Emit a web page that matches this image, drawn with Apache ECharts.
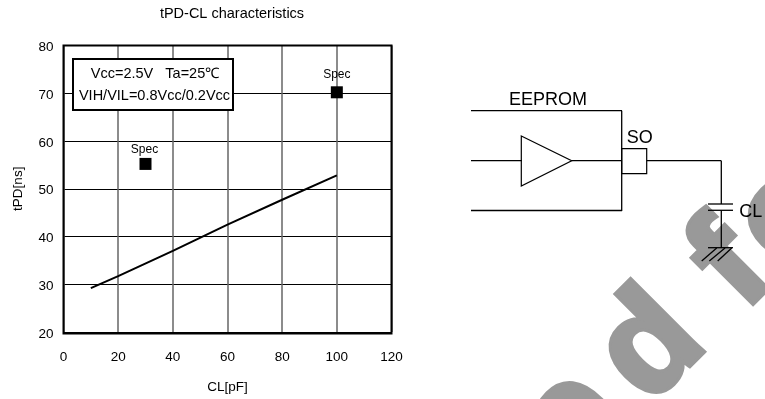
<!DOCTYPE html>
<html>
<head>
<meta charset="utf-8">
<style>html,body{margin:0;padding:0;background:#fff}#main{width:765px;height:399px}</style>
<script src="https://cdn.jsdelivr.net/npm/echarts@6/dist/echarts.min.js"></script>
</head>
<body>
<div id="main"></div>
<script>
var FONT = '"Liberation Sans", Arial, sans-serif';
var capValues = [10, 20, 40, 60, 80, 100];
var delayValues = [29.2, 31.7, 37, 42.5, 47.7, 52.8];
var specPoints = [[30, 55.2], [100, 70.2]];
var specLabel = 'Spec';
var chartTitle = 'tPD-CL characteristics';
var xName = 'CL[pF]';
var yName = 'tPD[ns]';
var noteLines = ['Vcc=2.5V   Ta=25℃', 'VIH/VIL=0.8Vcc/0.2Vcc'];

var lineData = [];
for (var i = 0; i < capValues.length; i++) {
	lineData.push([capValues[i], delayValues[i]]);
}

function wire(x1, y1, x2, y2) {
	return {
		type: 'line', z: 5,
		shape: { x1: x1, y1: y1, x2: x2, y2: y2 },
		style: { stroke: '#000', lineWidth: 1.3 }
	};
}
function label(text, x, y, size, align) {
	return {
		type: 'text', z: 6, x: x, y: y,
		style: { text: text, font: size + 'px ' + FONT, fill: '#000', align: align || 'left', verticalAlign: 'middle' }
	};
}
function mark(text, x, y) {
	return {
		type: 'text', z: 0, x: x, y: y, rotation: Math.PI / 4,
		style: { text: text, font: 'bold 140px ' + FONT, fill: '#999', stroke: '#999', lineWidth: 6, lineJoin: 'miter', align: 'left', verticalAlign: 'alphabetic' }
	};
}

// 电路图和水印
var drawing = [
	mark('e', 496, 399),
	mark('d', 572, 329),
	mark('f', 667, 235),
	mark('o', 709, 197),
	// 注释框
	{ type: 'rect', z: 5, shape: { x: 73, y: 59, width: 160, height: 51 },
		style: { fill: '#fff', stroke: '#000', lineWidth: 2 } },
	label(noteLines[0], 155, 74, 14.5, 'center'),
	label(noteLines[1], 154.5, 96, 14.5, 'center'),
	// EEPROM
	wire(471, 110.7, 622, 110.7), wire(471, 160.7, 522, 160.7), wire(571.5, 160.7, 622, 160.7),
	wire(471, 210.5, 622, 210.5), wire(621.7, 110.7, 621.7, 211),
	{ type: 'polygon', z: 5, shape: { points: [[521.3, 136], [571.7, 160.7], [521.3, 186]] },
		style: { fill: 'none', stroke: '#000', lineWidth: 1.2 } },
	{ type: 'rect', z: 5, shape: { x: 621.7, y: 148.7, width: 25, height: 25 },
		style: { fill: 'none', stroke: '#000', lineWidth: 1.2 } },
	wire(646.7, 160.7, 721.3, 160.7), wire(721.3, 160.7, 721.3, 204),
	wire(708, 204, 733, 204), wire(708, 210.3, 733, 210.3),
	wire(721.3, 210.3, 721.3, 248), wire(708, 247.7, 733, 247.7),
	wire(716.7, 248, 701.7, 261), wire(725, 248, 709.3, 261), wire(731.7, 248, 717.7, 261),
	label('EEPROM', 509, 100, 18),
	label('SO', 626.7, 137.7, 18),
	label('CL', 739.3, 211.7, 18)
];

var chart = echarts.init(document.getElementById('main'), null, { renderer: 'canvas' });
chart.setOption({
	animation: false,
	backgroundColor: '#fff',
	textStyle: { fontFamily: FONT },
	title: {
		text: chartTitle, left: 227, top: 1, textAlign: 'center',
		textStyle: { fontSize: 14.5, fontWeight: 'normal', color: '#000', fontFamily: FONT }
	},
	grid: { left: 63.5, top: 45.5, width: 328, height: 288, show: false },
	xAxis: {
		type: 'value', min: 0, max: 120, interval: 20,
		name: xName, nameLocation: 'middle', nameGap: 48,
		nameTextStyle: { fontSize: 13.5, color: '#000', fontFamily: FONT },
		axisLine: { show: false },
		axisTick: { show: false },
		axisLabel: { fontSize: 13.5, color: '#000', margin: 18, fontFamily: FONT },
		splitLine: { show: true, lineStyle: { color: '#666', width: 1.5 } }
	},
	yAxis: {
		type: 'value', min: 20, max: 80, interval: 10,
		name: yName, nameLocation: 'middle', nameGap: 38,
		nameTextStyle: { fontSize: 13.5, color: '#000', fontFamily: FONT },
		axisLine: { show: false },
		axisTick: { show: false },
		axisLabel: { fontSize: 13.5, color: '#000', margin: 10, verticalAlign: 'top', lineHeight: 4, fontFamily: FONT },
		splitLine: { show: true, lineStyle: { color: '#000', width: 1 } }
	},
	series: [
		{
			type: 'line', data: lineData, smooth: false, symbol: 'none', z: 3,
			lineStyle: { color: '#000', width: 2 }
		},
		{
			type: 'scatter', symbol: 'rect', symbolSize: 12, z: 4,
			data: [
				{ value: specPoints[0], label: { distance: 2, offset: [-1, 0] } },
				{ value: specPoints[1] }
			],
			itemStyle: { color: '#000', opacity: 1 },
			label: { show: true, position: 'top', distance: 6, formatter: specLabel, fontSize: 12, color: '#000', fontFamily: FONT }
		}
	],
	graphic: { elements: drawing.concat([
		{ type: 'rect', z: 4, shape: { x: 63.5, y: 45.5, width: 328, height: 288 },
			style: { fill: 'none', stroke: '#000', lineWidth: 2 } }
	]) }
});
</script>
</body>
</html>
